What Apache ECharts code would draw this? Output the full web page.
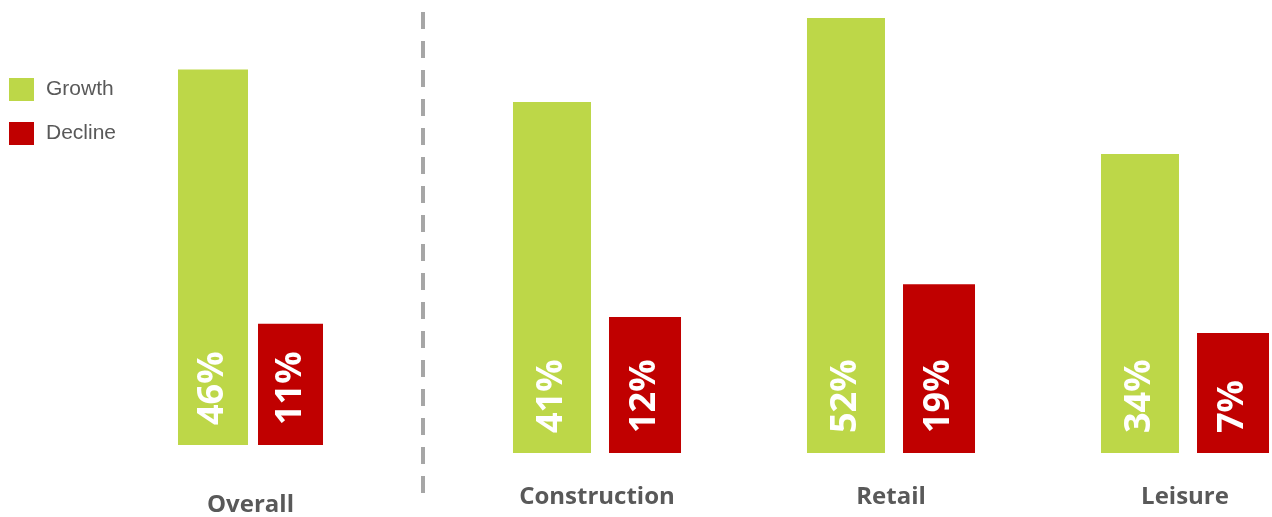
<!DOCTYPE html>
<html>
<head>
<meta charset="utf-8">
<script src="https://cdn.jsdelivr.net/npm/echarts@6/dist/echarts.min.js"></script>
<style>
  html, body { margin: 0; padding: 0; background: #ffffff; }
  #chart { width: 1272px; height: 517px; }
</style>
</head>
<body>
<div id="chart"></div>
<script>
// overall group
const overallCategory = ['Overall']
const overallGrowthLabel = [46]
const overallDeclineLabel = [11]
// bar heights as drawn in the picture (same scale for all bars)
const overallGrowthShown = [44.9]
const overallDeclineShown = [14.5]

// sector groups
const sectorCategories = ['Construction', 'Retail', 'Leisure']
const sectorGrowthLabel = [41, 52, 34]
const sectorDeclineLabel = [12, 19, 7]
const sectorGrowthShown = [41.8, 51.8, 35.6]
const sectorDeclineShown = [16.2, 20.1, 14.3]

const GREEN = '#BDD748'
const RED = '#C00000'
const GRAY = '#595959'

const chart = echarts.init(document.getElementById('chart'))

function barLabel (labels) {
  return {
    show: true,
    position: 'insideBottom',
    rotate: 90,
    align: 'left',
    verticalAlign: 'middle',
    distance: 20,
    color: '#ffffff',
    fontFamily: 'Open Sans',
    fontWeight: 'bold',
    fontSize: 36,
    formatter: function (p) {
      return labels[p.dataIndex] + '%'
    }
  }
}

// 8.4 px per unit in both grids
const yAxisCommon = {
  type: 'value',
  min: 0,
  max: 53,
  show: false
}

const option = {
  animation: false,
  backgroundColor: '#ffffff',
  legend: {
    orient: 'vertical',
    left: 4,
    top: 73,
    itemWidth: 25,
    itemHeight: 23,
    itemGap: 21,
    icon: 'rect',
    textStyle: {
      color: GRAY,
      fontFamily: 'Liberation Sans',
      fontSize: 21,
      padding: [4, 0, 0, 7]
    },
    data: ['Growth', 'Decline']
  },
  grid: [
    { left: 100, width: 301, bottom: 70, height: 445.2 },
    // sector bars sit on the ticks (boundaryGap false), first to last
    { left: 597, width: 588, bottom: 64, height: 445.2 }
  ],
  xAxis: [
    {
      type: 'category',
      gridIndex: 0,
      data: overallCategory,
      axisLine: { show: false },
      axisTick: { show: false },
      axisLabel: {
        margin: 48,
        color: GRAY,
        fontFamily: 'Open Sans',
        fontWeight: 'bold',
        fontSize: 24
      }
    },
    {
      type: 'category',
      gridIndex: 1,
      boundaryGap: false,
      data: sectorCategories,
      axisLine: { show: false },
      axisTick: { show: false },
      axisLabel: {
        margin: 32,
        color: GRAY,
        fontFamily: 'Open Sans',
        fontWeight: 'bold',
        fontSize: 24
      }
    }
  ],
  yAxis: [
    Object.assign({ gridIndex: 0 }, yAxisCommon),
    Object.assign({ gridIndex: 1 }, yAxisCommon)
  ],
  graphic: [{
    type: 'line',
    shape: { x1: 423, y1: 12, x2: 423, y2: 495 },
    style: { stroke: '#A6A6A6', lineWidth: 4, lineDash: [17, 12] }
  }],
  series: [
    {
      name: 'Growth',
      type: 'bar',
      xAxisIndex: 0,
      yAxisIndex: 0,
      barWidth: 70,
      barGap: '14.3%',
      itemStyle: { color: GREEN },
      label: barLabel(overallGrowthLabel),
      data: overallGrowthShown
    },
    {
      name: 'Decline',
      type: 'bar',
      xAxisIndex: 0,
      yAxisIndex: 0,
      barWidth: 65,
      barGap: '14.3%',
      itemStyle: { color: RED },
      label: barLabel(overallDeclineLabel),
      data: overallDeclineShown
    },
    {
      name: 'Growth',
      type: 'bar',
      xAxisIndex: 1,
      yAxisIndex: 1,
      barWidth: 78,
      barGap: '23.1%',
      itemStyle: { color: GREEN },
      label: barLabel(sectorGrowthLabel),
      data: sectorGrowthShown
    },
    {
      name: 'Decline',
      type: 'bar',
      xAxisIndex: 1,
      yAxisIndex: 1,
      barWidth: 72,
      barGap: '23.1%',
      itemStyle: { color: RED },
      label: barLabel(sectorDeclineLabel),
      data: sectorDeclineShown
    }
  ]
}

chart.setOption(option)
</script>
</body>
</html>
